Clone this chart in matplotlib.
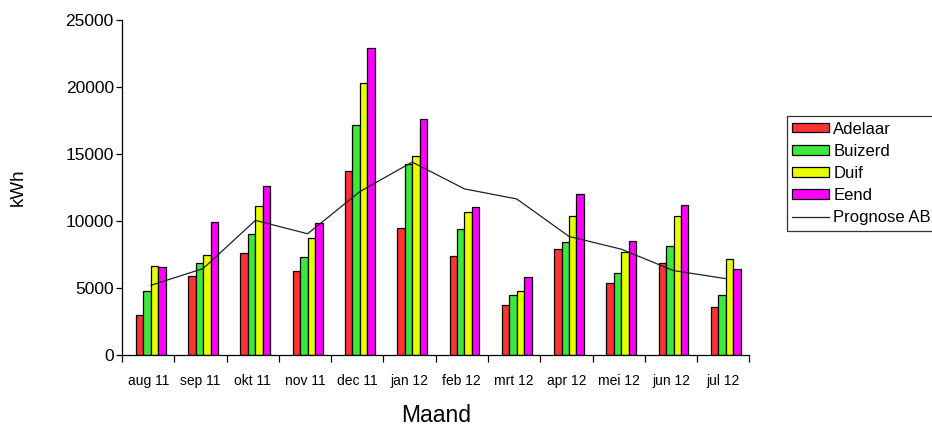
import matplotlib
matplotlib.use("Agg")
import matplotlib.pyplot as plt
import numpy as np

months = ["aug 11", "sep 11", "okt 11", "nov 11", "dec 11", "jan 12",
          "feb 12", "mrt 12", "apr 12", "mei 12", "jun 12", "jul 12"]

adelaar = [3000, 5900, 7600, 6300, 13700, 9500, 7400, 3750, 7900, 5400, 6900, 3600]
buizerd = [4750, 6900, 9050, 7350, 17150, 14250, 9400, 4450, 8400, 6150, 8150, 4450]
duif = [6650, 7500, 11100, 8700, 20300, 14850, 10650, 4750, 10400, 7700, 10400, 7150]
eend = [6550, 9950, 12650, 9850, 22900, 17650, 11050, 5850, 12050, 8500, 11200, 6450]
prognose = [5200, 6450, 10050, 9050, 12200, 14400, 12400, 11650, 8850, 7900, 6300, 5700]

series = [("Adelaar", adelaar, "#ff3333"),
          ("Buizerd", buizerd, "#3be83b"),
          ("Duif", duif, "#e8ff00"),
          ("Eend", eend, "#ff00ff")]

plt.rcParams['font.family'] = ['Liberation Sans', 'DejaVu Sans']

fig = plt.figure(figsize=(9.32, 4.28), dpi=100)
ax = fig.add_axes([0.131, 0.1706, 0.673, 0.7824])

x = np.arange(len(months))
w = 0.143
handles = []
for i, (name, vals, col) in enumerate(series):
    h = ax.bar(x + (i - 1.5) * w + 0.05, vals, w, color=col, edgecolor='black',
               linewidth=0.9, label=name, zorder=2)
    handles.append(h)

line, = ax.plot(x + 0.05, prognose, color='#222222', linewidth=0.9,
                label='Prognose AB', zorder=3)
handles.append(line)

ax.set_xlim(-0.5, len(months) - 0.5)
ax.set_ylim(0, 25000)
ax.set_yticks(range(0, 25001, 5000))
ax.set_xticks(x)
ax.set_xticklabels(months, fontsize=10)
ax.set_xticks(np.arange(-0.5, len(months)), minor=True)
ax.tick_params(axis='x', which='major', length=0, pad=14)
ax.tick_params(axis='x', which='minor', length=5, width=0.9, direction='out')
ax.tick_params(axis='y', labelsize=12.5, length=4, width=0.9, direction='out', pad=2)
for s in ['top', 'right']:
    ax.spines[s].set_visible(False)
for s in ['left', 'bottom']:
    ax.spines[s].set_linewidth(0.9)

ax.set_ylabel("kWh", fontsize=13.5, labelpad=28)
ax.set_xlabel("Maand", fontsize=16.5, labelpad=11)

leg = ax.legend(handles=handles, loc='upper left', bbox_to_anchor=(1.06, 0.713),
                fontsize=12, frameon=True, fancybox=False, edgecolor='black',
                handlelength=2.2, handleheight=0.5, handletextpad=0.25,
                labelspacing=0.43, borderpad=0.32, borderaxespad=0)
leg.get_frame().set_linewidth(0.9)

fig.savefig("out.png", dpi=100)
